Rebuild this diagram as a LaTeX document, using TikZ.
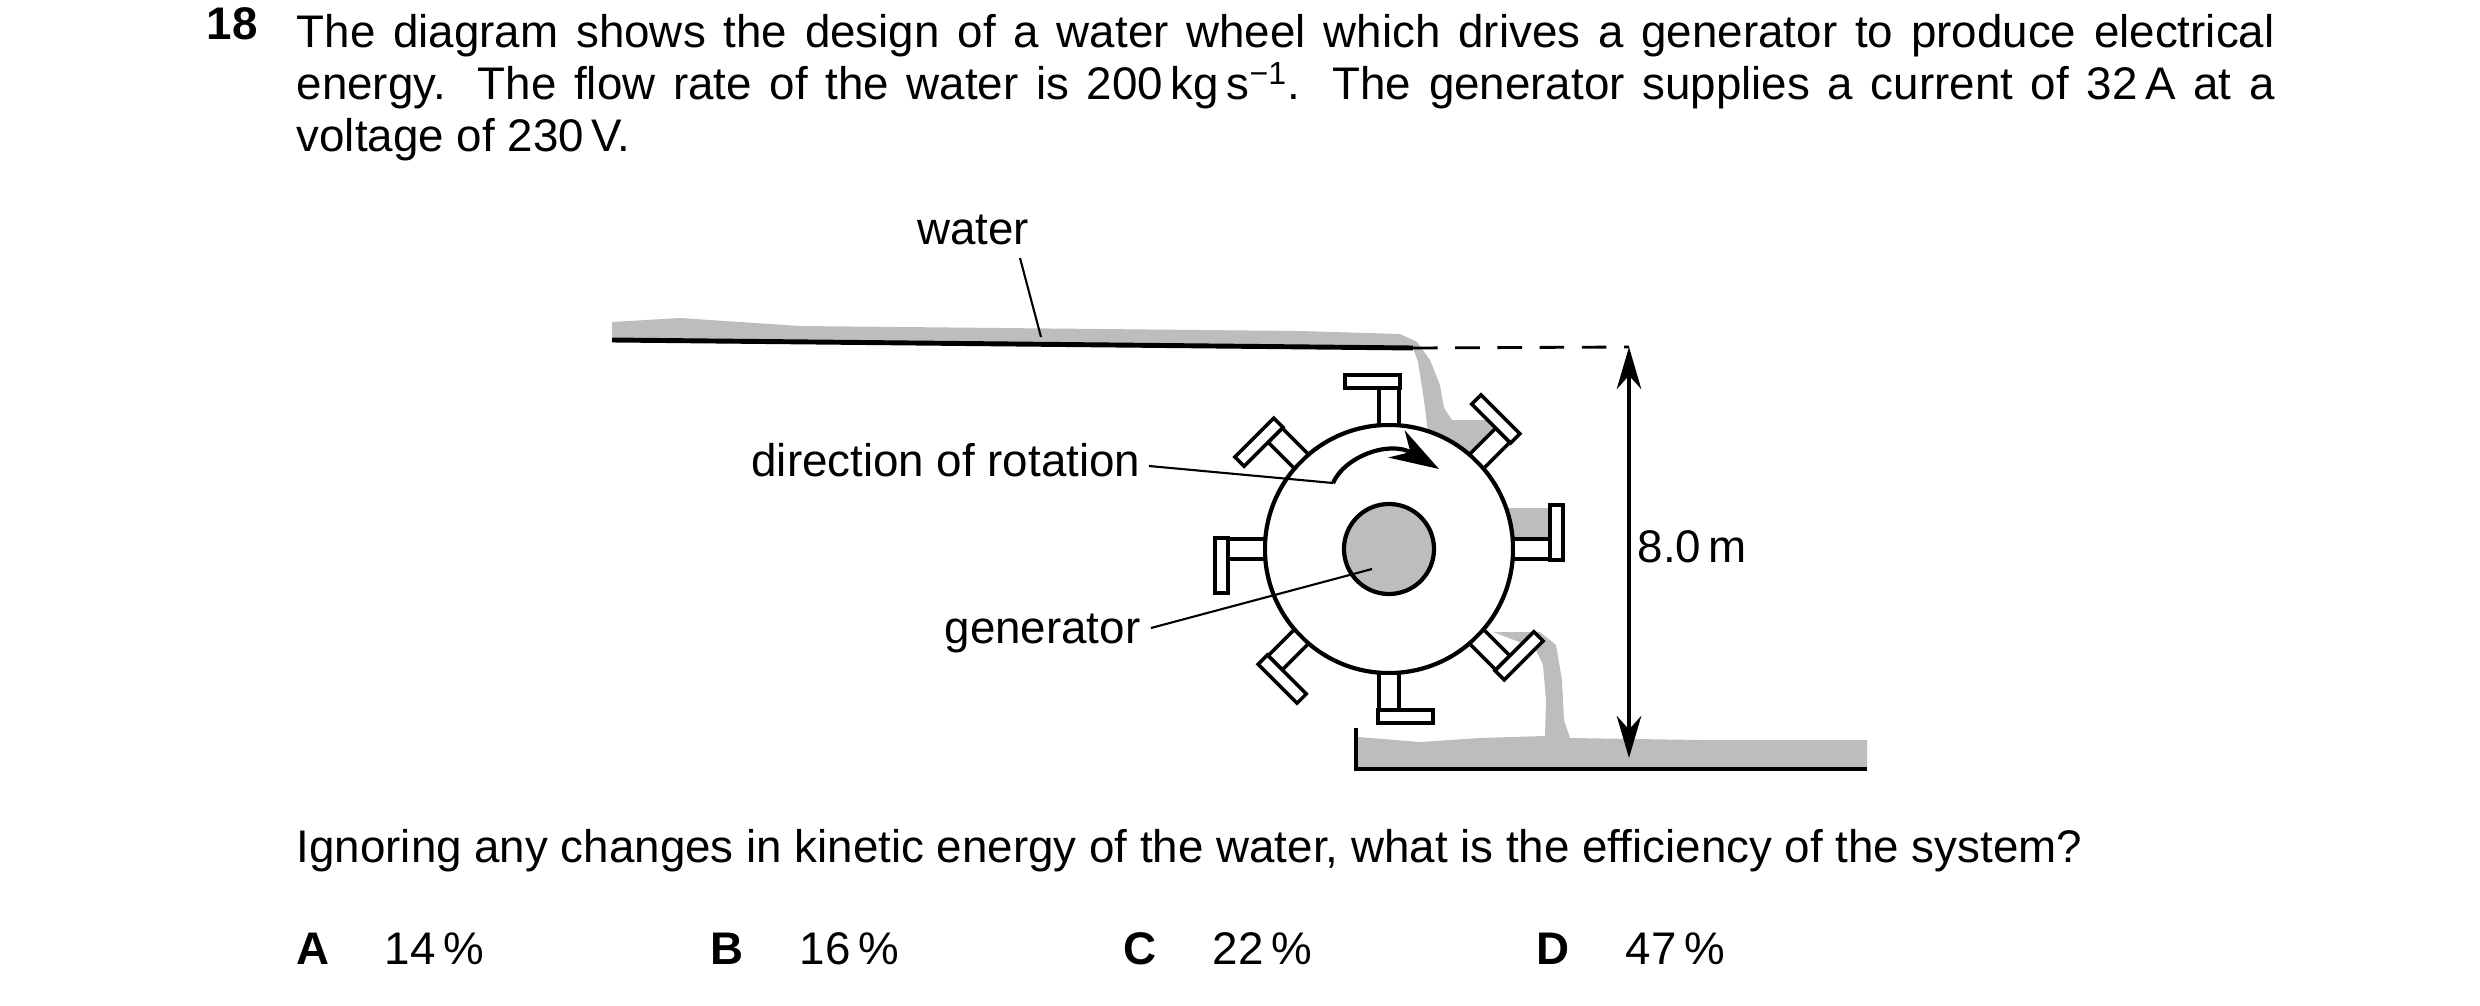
\documentclass[tikz,border=0pt]{standalone}
\usepackage{fontspec}
\setmainfont{Liberation Sans}
\usetikzlibrary{arrows.meta,positioning}
\definecolor{watergrey}{HTML}{BCBDBF}
\tikzset{
  txt/.style={inner sep=0pt, font=\fontsize{13pt}{14.8pt}\selectfont},
  bold/.style={txt, font=\fontsize{13pt}{14.8pt}\selectfont\bfseries},
  leader/.style={line width=0.6pt},
  channel/.style={line width=1.4pt},
  paddle/.style={draw, fill=white, line width=1pt},
  water/.style={fill=watergrey, draw=none},
  dim/.style={line width=1pt, {Stealth[length=12pt,width=7pt]}-{Stealth[length=12pt,width=7pt]}}
}
\begin{document}
\begin{tikzpicture}[x=0.01cm, y=-0.01cm]
\useasboundingbox (0,0) rectangle (2480,1006);

% question
\node [bold, anchor=base west] (qnum) at (206,40) {18};
\node [txt, anchor=north west, text width=19.77cm, align=justify] (qtext) at (296,14)
  {The diagram shows the design of a water wheel which drives a generator to produce electrical energy. The flow rate of the water is 200\,kg\,s\textsuperscript{−1}. The generator supplies a current of 32\,A at a voltage of 230\,V.};

% water
\fill [water] (612,340) -- (612,322) -- (680,318) -- (800,326) -- (1000,328) -- (1300,331) -- (1400,334) -- (1417,342)
  -- (1430,360) -- (1440,385) -- (1444,408) -- (1452,420) -- (1492,420) -- (1499,428) -- (1472,455) -- (1450,440)
  -- (1428,432) -- (1424,400) -- (1418,362) -- (1413,348) -- cycle;
\fill [water] (1508,508) rectangle (1552,541);
\fill [water] (1358,767) -- (1358,737) -- (1420,742) -- (1480,738) -- (1545,736) -- (1546,700) -- (1543,665)
  -- (1535,648) -- (1493,632) -- (1540,632) -- (1556,645) -- (1562,680) -- (1564,720) -- (1570,738)
  -- (1700,740) -- (1867,740) -- (1867,767) -- cycle;

% channels
\coordinate (upL) at (612,340);
\coordinate (upR) at (1413,348);
\coordinate (dimTop) at (1629,347);
\coordinate (dimBot) at (1629,758);
\coordinate (lowTop) at (1356,728);
\coordinate (lowL) at (1356,769);
\coordinate (lowR) at (1867,769);
\draw [channel] (upL) -- (upR);
\draw [channel] (lowTop) -- (lowL) -- (lowR);
\draw [line width=0.8pt, dash pattern=on 7pt off 5pt] (upR) -- (dimTop);
\draw [dim] (dimTop) -- (dimBot);
\node [txt, anchor=west] (height) at (1637,547) {8.0\,m};

% wheel
\node [circle, draw, fill=white, line width=1.2pt, minimum size=2.48cm, inner sep=0pt] (wheel) at (1389,549) {};
\node [circle, draw, fill=watergrey, line width=1.2pt, minimum size=0.9cm, inner sep=0pt] (gen) at (wheel.center) {};
\foreach \a in {0,45,...,315} {
  \begin{scope}[shift={(wheel.center)}, rotate=\a]
    \draw [paddle] (124,-10) rectangle (161,10);
    \draw [paddle] (161,-44) rectangle (174,11);
    \draw [line width=0.5pt] (161,-10) -- (161,11);
  \end{scope}
}

% rotation arrow
\coordinate (rotStart) at (1333,483);
\coordinate (rotEnd) at (1439,469);
\draw [line width=1.2pt, -{Stealth[length=14pt,width=9pt]}] (rotStart) .. controls (1345,456) and (1390,440) .. (rotEnd);

% labels
\node [txt, anchor=base] (waterlbl) at (973,244) {water};
\coordinate (waterpt) at (1041,337);
\draw [leader] (1020,258) -- (waterpt);
\node [txt, anchor=east] (rotlbl) at (1141,460) {direction of rotation};
\draw [leader] (rotlbl.east) ++(8,6) -- (rotStart);
\node [txt, anchor=east] (genlbl) at (1141,633) {generator};
\coordinate (genpt) at (1372,569);
\draw [leader] (genlbl.east) ++(10,-5) -- (genpt);

% question and answers
\node [txt, anchor=west] (ask) at (296,851) {Ignoring any changes in kinetic energy of the water, what is the efficiency of the system?};
\node [bold, anchor=west] (optA) at (296,949) {A};
\node [txt, anchor=west] (valA) at (384,949) {14\,\%};
\node [bold, anchor=west] (optB) at (710,949) {B};
\node [txt, anchor=west] (valB) at (799,949) {16\,\%};
\node [bold, anchor=west] (optC) at (1123,949) {C};
\node [txt, anchor=west] (valC) at (1212,949) {22\,\%};
\node [bold, anchor=west] (optD) at (1536,949) {D};
\node [txt, anchor=west] (valD) at (1625,949) {47\,\%};
\end{tikzpicture}
\end{document}
